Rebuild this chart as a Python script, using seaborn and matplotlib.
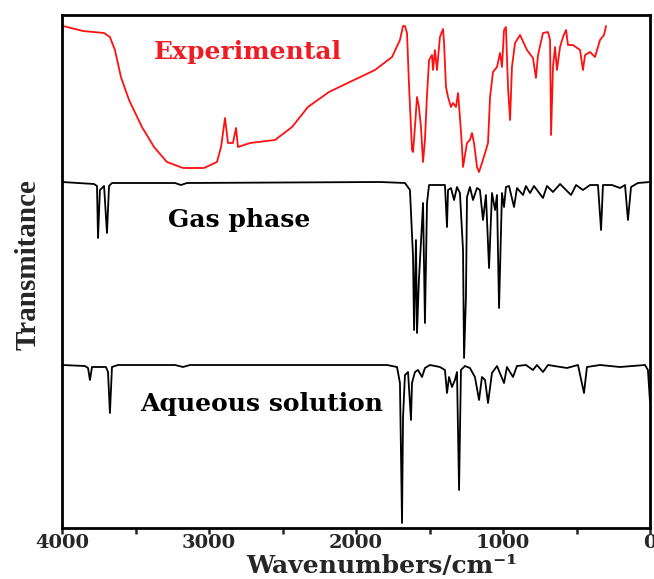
import matplotlib
matplotlib.use("Agg")
import matplotlib.pyplot as plt
import seaborn as sns
import numpy as np
from matplotlib.ticker import MultipleLocator

# Wavenumber (cm-1) and stacked transmittance (a.u.)
exp_wn = [3993, 3857, 3714, 3674, 3640, 3599, 3544, 3456, 3374, 3286, 3177, 3034,
          2946, 2918, 2891, 2871, 2837, 2816, 2803, 2721, 2551, 2435, 2327, 2184,
          2014, 1871, 1755, 1701, 1680, 1667, 1653, 1640, 1619, 1612, 1599, 1585,
          1572, 1558, 1544, 1531, 1517, 1503, 1483, 1476, 1463, 1449, 1429, 1408,
          1401, 1388, 1374, 1354, 1340, 1320, 1306, 1293, 1279, 1272, 1245, 1225,
          1211, 1197, 1177, 1163, 1143, 1122, 1102, 1088, 1068, 1041, 1020, 1007,
          993, 980, 966, 952, 939, 918, 884, 837, 796, 776, 762, 728, 694, 680,
          673, 660, 646, 633, 612, 592, 571, 558, 524, 476, 456, 442, 408, 374,
          340, 313, 299]
exp_t = [502, 497, 495, 491, 478, 451, 428, 401, 381, 366, 360, 360,
         366, 381, 410, 385, 385, 400, 381, 385, 388, 401, 421, 436,
         448, 458, 471, 488, 502, 502, 495, 445, 378, 376, 401, 431,
         421, 401, 366, 388, 433, 468, 473, 458, 478, 458, 491, 499,
         485, 441, 431, 421, 425, 421, 435, 411, 381, 361, 385, 388,
         395, 385, 361, 356, 365, 375, 385, 431, 456, 461, 475, 461,
         498, 501, 441, 408, 461, 485, 493, 478, 470, 450, 473, 495, 496, 488,
         393, 461, 481, 458, 481, 491, 498, 483, 483, 478, 458, 473, 476, 471,
         488, 493, 502]

gas_wn = [4000, 3782, 3762, 3755, 3742, 3714, 3694, 3680, 3660, 3231, 3191, 3150,
          1837, 1667, 1633, 1612, 1605, 1592, 1585, 1572, 1551, 1544, 1531, 1517,
          1503, 1395, 1381, 1374, 1354, 1333, 1313, 1293, 1272, 1265, 1252, 1245,
          1225, 1204, 1177, 1157, 1136, 1116, 1095, 1075, 1054, 1041, 1027, 1007,
          993, 980, 959, 925, 905, 864, 844, 816, 789, 728, 701, 660, 612, 537,
          503, 456, 408, 354, 333, 320, 259, 204, 170, 150, 129, 82, 0]
gas_t = [346, 344, 342, 290, 338, 342, 295, 342, 345, 345, 343, 345,
         346, 345, 338, 271, 198, 288, 195, 248, 305, 325, 205, 325,
         343, 343, 301, 338, 340, 328, 341, 335, 278, 170, 231, 331,
         341, 328, 340, 338, 308, 333, 260, 335, 318, 333, 220, 335,
         321, 341, 342, 321, 340, 333, 342, 335, 342, 330, 342, 336, 344, 333,
         343, 338, 343, 343, 298, 343, 343, 340, 343, 308, 341, 345, 346]

aq_wn = [4000, 3844, 3823, 3810, 3796, 3701, 3687, 3674, 3660, 3619, 3231, 3177,
         3129, 1789, 1721, 1701, 1687, 1680, 1667, 1646, 1626, 1619, 1599, 1578,
         1551, 1531, 1497, 1429, 1395, 1381, 1367, 1347, 1327, 1313, 1299, 1286,
         1259, 1225, 1191, 1163, 1143, 1122, 1102, 1075, 1041, 993, 973, 932,
         905, 844, 796, 769, 728, 694, 565, 490, 449, 429, 340, 204, 34, 14, 0]
aq_t = [163, 162, 160, 148, 161, 161, 156, 115, 161, 163, 163, 161,
        163, 163, 161, 145, 5, 111, 153, 156, 108, 145, 156, 158,
        151, 160, 163, 161, 158, 135, 151, 141, 148, 156, 38, 158,
        162, 160, 151, 128, 151, 148, 125, 155, 162, 145, 161, 151,
        162, 163, 158, 163, 156, 163, 160, 163, 135, 161, 163, 161, 163, 158, 126]

sns.set_theme(style="ticks")
plt.rcParams['font.family'] = ['DejaVu Serif']
plt.rcParams['font.weight'] = 'bold'

fig = plt.figure(figsize=(6.54, 5.79), dpi=100)
ax = fig.add_axes([62/654, 51/579, 588/654, 513/579])

sns.lineplot(x=exp_wn, y=exp_t, color='#ff1010', lw=1.3, sort=False, estimator=None, ax=ax)
sns.lineplot(x=gas_wn, y=gas_t, color='black', lw=1.3, sort=False, estimator=None, ax=ax)
sns.lineplot(x=aq_wn, y=aq_t, color='black', lw=1.3, sort=False, estimator=None, ax=ax)

ax.set_xlim(4000, 0)
ax.set_ylim(0, 513)
ax.set_yticks([])
ax.xaxis.set_major_locator(MultipleLocator(1000))
ax.xaxis.set_minor_locator(MultipleLocator(500))
ax.tick_params(axis='x', which='major', direction='out', length=4, width=1.8,
               labelsize=14, pad=0)
ax.tick_params(axis='x', which='minor', direction='out', length=4, width=1.8)
for s in ax.spines.values():
    s.set_linewidth(2)
    s.set_color('black')

ax.text(2735, 476, 'Experimental', color='#ee1c24', fontsize=18, fontweight='bold',
        ha='center', va='center')
ax.text(2796, 308, 'Gas phase', color='black', fontsize=18, fontweight='bold',
        ha='center', va='center')
ax.text(2640, 124, 'Aqueous solution', color='black', fontsize=18, fontweight='bold',
        ha='center', va='center')

ax.set_xlabel('Wavenumbers/cm⁻¹', fontsize=18, fontweight='bold', va='baseline')
ax.xaxis.set_label_coords(0.544, -0.088)
ax.set_ylabel('Transmitance', fontsize=21, fontweight='bold', family='Liberation Serif',
              va='center')
ax.yaxis.set_label_coords(-0.058, 0.513)

fig.savefig('out.png', dpi=100)
